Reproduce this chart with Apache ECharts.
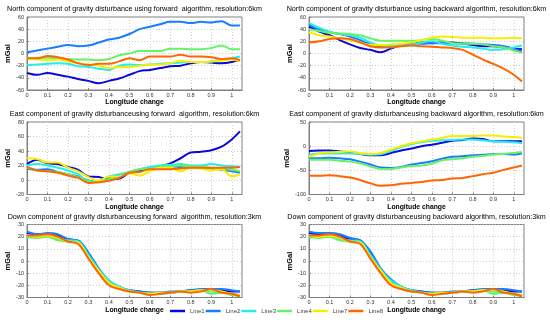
<!DOCTYPE html>
<html><head><meta charset="utf-8">
<script src="https://cdn.jsdelivr.net/npm/echarts@6/dist/echarts.min.js"></script>
<style>html,body{margin:0;padding:0;background:#fff}#c{width:550px;height:323px}</style>
</head><body><div id="c"></div>
<script>
const xs = [0,0.05,0.1,0.15,0.2,0.25,0.3,0.35,0.4,0.45,0.5,0.55,0.6,0.65,0.7,0.75,0.8,0.85,0.9,0.95,1.0,1.04];
const lineNames = ['Line1','Line2','Line3','Line4','Line7','Line8'];
const lineColors = ['#0a0ad8','#1a7cff','#22eeee','#66f266','#f6ee00','#ff6600'];

const northForward = [
  [-32,-35,-32,-35,-38,-42,-45,-49,-45,-41,-35,-29,-27,-24,-21,-20,-16,-14,-15,-16,-14,-10],
  [2,5,8,11,14,12,13,18,23,26,32,40,44,48,52,52,50,52,51,53,46,46],
  [-19,-18,-17,-16,-17,-21,-22,-25,-27,-20,-18,-19,-18,-17,-16,-15,-14,-14,-13,-10,-8,-5],
  [-8,-8,-7,-8,-9,-10,-10,-11,-9,-3,0,4,4,4,8,8,7,7,9,13,7,7],
  [-8,-10,-11,-10,-13,-16,-18,-20,-24,-22,-22,-20,-18,-18,-16,-12,-14,-14,-13,-12,-10,-13],
  [-8,-8,-4,-6,-10,-16,-19,-17,-17,-13,-8,-11,-5,-5,-5,-2,-5,-5,-6,-9,-8,-11]
];
const northBackward = [
  [44,36,30,22,15,9,6,2,8,14,16,18,17,18,18,16,14,12,12,10,8,7],
  [48,40,35,32,28,22,15,12,12,14,16,16,17,17,17,17,16,15,14,12,8,3],
  [50,42,36,32,30,26,18,13,12,13,14,18,20,16,13,11,10,8,6,7,10,13],
  [40,37,34,33,32,30,25,21,21,21,21,22,24,21,17,16,16,15,12,10,5,1],
  [35,30,28,25,22,18,14,14,15,16,18,22,26,28,27,26,26,26,25,25,26,25],
  [18,20,24,25,24,18,12,10,10,12,13,12,11,10,9,6,-2,-10,-17,-25,-35,-46]
];
const eastForward = [
  [22,28,23,22,18,14,5,4,1,2,10,12,17,19,23,30,38,39,41,46,56,67],
  [16,14,15,11,8,5,-1,-2,4,6,10,14,17,17,19,18,17,17,16,14,12,10],
  [20,22,20,17,13,8,-2,-1,5,8,11,15,18,20,21,22,20,20,22,20,19,18],
  [17,13,12,11,8,4,-2,-3,1,5,11,15,16,18,19,20,19,18,17,16,14,12],
  [30,29,24,24,17,12,4,-1,5,5,9,6,12,17,17,12,17,16,13,15,5,8],
  [18,13,12,10,6,3,-4,-3,-1,3,10,11,15,15,15,16,17,17,17,17,17,18]
];
const eastBackward = [
  [-10,-9,-9,-11,-13,-16,-19,-19,-14,-9,-5,0,3,7,11,13,16,15,10,10,10,10],
  [-25,-25,-24,-25,-27,-32,-38,-44,-45,-43,-38,-35,-31,-26,-22,-21,-19,-18,-16,-16,-17,-15],
  [-18,-15,-15,-15,-15,-16,-18,-17,-10,-2,4,8,11,12,13,14,14,12,10,9,8,6],
  [-28,-28,-28,-30,-32,-36,-42,-47,-47,-44,-41,-40,-36,-29,-27,-25,-22,-20,-17,-16,-14,-12],
  [-22,-15,-13,-12,-11,-14,-16,-14,-7,0,6,10,14,17,21,21,21,22,22,20,19,17],
  [-61,-61,-60,-62,-65,-70,-77,-82,-81,-78,-76,-74,-71,-70,-67,-66,-62,-58,-55,-49,-44,-40]
];
const downForward = [
  [23,22,22,21,18,16,5,-8,-17,-22,-24,-25,-26,-26,-26,-25,-24,-24,-23,-24,-25,-25],
  [24,22,23,22,18,17,7,-6,-16,-21,-24,-25,-26,-26,-25,-25,-24,-23,-23,-23,-24,-25],
  [19,20,20,18,17,16,5,-7,-16,-21,-24,-26,-27,-27,-26,-25,-25,-24,-25,-26,-27,-28],
  [20,19,20,17,16,15,3,-9,-18,-22,-25,-26,-27,-26,-26,-25,-25,-24,-27,-26,-28,-29],
  [21,20,21,19,16,15,3,-8,-18,-22,-25,-26,-27,-26,-26,-25,-25,-24,-24,-25,-27,-28],
  [21,21,22,20,16,14,2,-10,-20,-23,-25,-26,-28,-27,-26,-25,-26,-25,-23,-26,-27,-29]
];
const downBackward = [
  [23,22,22,21,18,17,6,-7,-16,-22,-24,-25,-26,-26,-26,-25,-24,-24,-23,-24,-25,-25],
  [24,23,23,22,19,17,8,-6,-15,-21,-24,-25,-26,-26,-25,-25,-24,-23,-23,-23,-24,-25],
  [19,20,20,18,17,16,5,-7,-16,-21,-24,-26,-27,-27,-26,-25,-25,-24,-25,-26,-27,-28],
  [20,19,20,17,16,15,3,-9,-18,-23,-25,-26,-27,-26,-26,-25,-25,-24,-27,-26,-28,-29],
  [21,20,21,19,16,15,3,-8,-18,-22,-25,-26,-27,-26,-26,-25,-25,-24,-24,-25,-27,-28],
  [21,21,22,20,16,14,2,-10,-20,-23,-25,-26,-28,-27,-26,-25,-26,-25,-23,-26,-27,-29]
];
const panelData = [northForward, northBackward, eastForward, eastBackward, downForward, downBackward];
const panelTitles = [
  'North component of gravity disturbance using forward  algorithm, resolution:6km',
  'North component of gravity disturbance using backward algorithm, resolution:6km',
  'East component of gravity disturbanceusing forward  algorithm, resolution:6km',
  'East component of gravity disturbanceusing backward algorithm, resolution:6km',
  'Down component of gravity disturbanceusing forward  algorithm, resolution:3km',
  'Down component of gravity disturbanceusing backward algorithm, resolution:3km'
];
const yRanges = [[-60,60,20],[-60,60,20],[-20,80,20],[-100,50,50],[-30,30,10],[-30,30,10]];
const xRange = [0, 1.05, 0.1];
const xName = 'Longitude change';
const yName = 'mGal';

const FONT = '"Liberation Sans", Arial, Helvetica, sans-serif';
const layout = [
  {left:27, top:17, w:215, h:73, gap:9},
  {left:309, top:17, w:215, h:73, gap:11},
  {left:27, top:122, w:215, h:72.5, gap:9},
  {left:309, top:122, w:215, h:72.5, gap:11},
  {left:27, top:224.5, w:215, h:73, gap:9},
  {left:309, top:224.5, w:215, h:73, gap:11}
];

const grid = [], xAxis = [], yAxis = [], title = [], series = [];
layout.forEach((L, i) => {
  grid.push({left:L.left, top:L.top, width:L.w, height:L.h, show:true, borderColor:'#808080', borderWidth:1, backgroundColor:'#fff'});
  title.push({text:panelTitles[i], left:L.left + L.w/2, top:L.top - 11, textAlign:'center', padding:0,
    textStyle:{fontFamily:FONT, fontSize:7.2, fontWeight:'normal', color:'#000'}});
  xAxis.push({type:'value', gridIndex:i, min:xRange[0], max:xRange[1], interval:xRange[2],
    name:xName, nameLocation:'middle', nameGap:7,
    nameTextStyle:{fontFamily:FONT, fontSize:6.8, fontWeight:'bold', color:'#000'},
    axisLine:{show:true, onZero:false, lineStyle:{color:'#808080', width:1}},
    axisTick:{show:true, inside:true, length:2, lineStyle:{color:'#808080'}},
    axisLabel:{show:true, margin:2, fontFamily:FONT, fontSize:5.5, color:'#333', showMaxLabel:false,
      formatter: v => { const t = Math.round(v*10); return Math.abs(v*10 - t) < 1e-6 ? String(t/10) : ''; }},
    splitLine:{show:true, lineStyle:{color:'#c0c0c0', type:[1,2], width:0.8}}
  });
  const yr = yRanges[i];
  yAxis.push({type:'value', gridIndex:i, min:yr[0], max:yr[1], interval:yr[2],
    name:yName, nameLocation:'middle', nameGap:L.gap, nameRotate:90,
    nameTextStyle:{fontFamily:FONT, fontSize:7.5, fontWeight:'bold', color:'#000'},
    axisLine:{show:true, lineStyle:{color:'#808080', width:1}},
    axisTick:{show:true, inside:true, length:2, lineStyle:{color:'#808080'}},
    axisLabel:{show:true, margin:3, fontFamily:FONT, fontSize:5.5, color:'#333'},
    splitLine:{show:true, lineStyle:{color:'#c0c0c0', type:[1,2], width:0.8}}
  });
  panelData[i].forEach((vals, k) => {
    series.push({type:'line', name:lineNames[k], xAxisIndex:i, yAxisIndex:i,
      data: vals.map((v, j) => [xs[j], v]), smooth:0.35, symbol:'none',
      lineStyle:{width:2, color:lineColors[k]}, itemStyle:{color:lineColors[k]}, animation:false});
  });
});

const chart = echarts.init(document.getElementById('c'), null, {renderer:'canvas'});
chart.setOption({
  backgroundColor:'#fff',
  animation:false,
  color: lineColors,
  title, grid, xAxis, yAxis, series,
  legend:{data:lineNames, left:170, top:308, padding:0, itemGap:1, itemWidth:15, itemHeight:2.5, icon:'rect',
    textStyle:{fontFamily:FONT, fontSize:6, color:'#444'}, selectedMode:false}
});
</script></body></html>
